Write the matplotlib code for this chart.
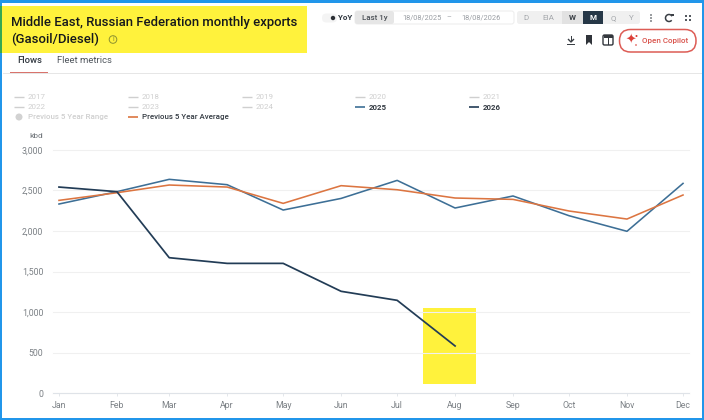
import matplotlib
matplotlib.use('Agg')
import matplotlib.pyplot as plt
from matplotlib.patches import Rectangle, FancyBboxPatch, Circle, Arc

plt.rcParams['font.family'] = ['Roboto', 'DejaVu Sans']

# 数据
months = ['Jan', 'Feb', 'Mar', 'Apr', 'May', 'Jun', 'Jul', 'Aug', 'Sep', 'Oct', 'Nov', 'Dec']
month_days = [0, 31, 59, 90, 120, 151, 181, 212, 243, 273, 304, 334]
y_ticks = [0, 500, 1000, 1500, 2000, 2500, 3000]
exports_2025 = [2331, 2483, 2635, 2569, 2257, 2400, 2622, 2282, 2430, 2187, 1995, 2585]
exports_2026 = [2540, 2483, 1670, 1600, 1600, 1256, 1145, 583]
avg_5y = [2376, 2470, 2565, 2540, 2339, 2557, 2507, 2405, 2388, 2245, 2146, 2442]

faded_years = [['2017', '2018', '2019', '2020', '2021'], ['2022', '2023', '2024']]
range_label = 'Previous 5 Year Range'
avg_label = 'Previous 5 Year Average'
title_lines = ['Middle East, Russian Federation monthly exports', '(Gasoil/Diesel)']
tab_labels = ['Flows', 'Fleet metrics']
freq_labels = ['D', 'EIA', 'W', 'M', 'Q', 'Y']

C_2025 = '#3d6f96'
C_2026 = '#223c56'
C_AVG = '#dc7541'
C_YELLOW = '#fff23c'
C_BORDER = '#2196ea'
C_FADED = '#cfcfcf'
C_TEXT = '#333a42'
C_RED = '#dd5c55'
W, H = 704, 420

fig = plt.figure(figsize=(W / 100, H / 100), dpi=100, facecolor='white')

# 叠加层，用像素坐标画界面元素
ui = fig.add_axes([0, 0, 1, 1], zorder=1)
ui.set_xlim(0, W)
ui.set_ylim(H, 0)
ui.axis('off')


def box(x0, y0, x1, y1, color, **kw):
    ui.add_patch(Rectangle((x0, y0), x1 - x0, y1 - y0, facecolor=color, edgecolor='none', **kw))


def pill(x0, y0, x1, y1, face, edge='none', r=2.5, lw=1):
    ui.add_patch(FancyBboxPatch((x0 + r, y0 + r), x1 - x0 - 2 * r, y1 - y0 - 2 * r,
                                boxstyle=f'round,pad={r},rounding_size={r}',
                                facecolor=face, edgecolor=edge, linewidth=lw))


# 外框
box(0, 0, W, 3, C_BORDER)
box(0, 0, 2, H, C_BORDER)
box(702, 0, W, H, C_BORDER)
box(0, 418, W, H, C_BORDER)
box(0, 6, 2, 53, '#35a852')

# 标题
box(2, 6, 307, 53, C_YELLOW)
ui.text(11, 22.5, title_lines[0], fontsize=9.45, fontweight='medium', color='#15181c', va='center')
ui.text(11, 39.5, title_lines[1], fontsize=9.45, fontweight='medium', color='#15181c', va='center')
ui.add_patch(Circle((113, 39.5), 3.8, facecolor='none', edgecolor='#8d9130', linewidth=0.7))
ui.text(113, 39.5, 'i', fontsize=5, color='#8d9130', ha='center', va='center')

# 标签页
ui.text(17, 60.5, tab_labels[0], fontsize=6.8, fontweight='medium', color=C_TEXT, va='center')
ui.text(57, 60.5, tab_labels[1], fontsize=6.8, color='#50565d', va='center')
box(3, 73, 702, 74, '#e6e6e6')
box(10, 71.5, 48, 73, '#d9736c')

# 工具栏
pill(322, 13.5, 337, 22.5, '#f4f4f4', r=4.4)
ui.add_patch(Circle((333, 18), 2.2, facecolor='#2b2f35', edgecolor='none'))
ui.text(338, 18, 'YoY', fontsize=5.8, fontweight='bold', color=C_TEXT, va='center')
pill(355, 11, 514, 24, '#ffffff', edge='#ececec', lw=0.7)
pill(355, 11, 394, 24, '#e6e6e6')
ui.text(374.5, 18, 'Last 1y', fontsize=5.7, fontweight='medium', color='#4a4f55', ha='center', va='center')
ui.text(402, 18, '18/08/2025', fontsize=5.3, color='#9a9ea3', va='center')
ui.text(449, 18, '–', fontsize=5.3, color='#9a9ea3', ha='center', va='center')
ui.text(461, 18, '18/08/2026', fontsize=5.3, color='#9a9ea3', va='center')
pill(517, 11, 640, 24, '#f0f0f0')
box(562, 11, 583, 24, '#e2e2e2')
box(583, 11, 603, 24, '#263747')
for label, cx in zip(freq_labels, [526, 548, 572.5, 593, 613, 631]):
    col = '#ffffff' if label == 'M' else ('#3a3f45' if label == 'W' else '#a5a8ac')
    ui.text(cx, 18, label, fontsize=5.8, fontweight='bold' if label in 'WM' else 'normal',
            color=col, ha='center', va='center')

# 图标
for dy in (-3, 0, 3):
    ui.add_patch(Circle((651, 18 + dy), 0.8, facecolor='#3a3f45', edgecolor='none'))
ui.add_patch(Arc((669, 18), 7, 7, theta1=40, theta2=330, color='#3a3f45', linewidth=1.1))
box(671, 13.5, 673.5, 16, '#3a3f45')
for gx in (686, 690):
    for gy in (16, 20):
        box(gx - 1.2, gy - 1.2, gx + 1.2, gy + 1.2, '#555a60')
box(567, 44, 575, 45, '#3a3f45')
box(570.5, 35.5, 571.5, 42, '#3a3f45')
ui.plot([568.5, 571, 573.5], [39.5, 42, 39.5], color='#3a3f45', lw=1)
ui.fill([586, 592, 592, 589, 586], [35, 35, 45, 42, 45], color='#30343a', lw=0)
pill(603, 35, 613, 45, 'none', edge='#33373d', r=1.5, lw=1)
box(607.5, 35, 608.5, 45, '#33373d')
box(603.5, 35, 612.5, 37.5, '#33373d')
pill(619.5, 29.5, 696, 52, '#ffffff', edge=C_RED, r=11, lw=1.1)
ui.text(630.5, 40.5, '✦', fontsize=9, color='#dc3f38', ha='center', va='center', family=['DejaVu Sans'])
ui.add_patch(Circle((636.5, 36), 1, facecolor='#dc3f38', edgecolor='none'))
ui.add_patch(Circle((636, 45), 0.8, facecolor='#dc3f38', edgecolor='none'))
ui.text(642, 40.5, 'Open Copilot', fontsize=5.8, fontweight='medium', color='#d9534c', va='center')


# 图例
def legend_row(x, y, label, color, txt_color, weight='normal', lw=1.2):
    ui.plot([x, x + 10], [y, y], color=color, lw=lw, solid_capstyle='butt')
    ui.text(x + 14, y, label, fontsize=5.7, color=txt_color, fontweight=weight, va='center')


col_x = [14, 128, 242, 355, 469]
for row_y, row in zip([97, 107], faded_years):
    for x, label in zip(col_x, row):
        legend_row(x, row_y, label, C_FADED, C_FADED, lw=1)
legend_row(col_x[3], 107, '2025', C_2025, C_TEXT, 'bold')
legend_row(col_x[4], 107, '2026', C_2026, C_TEXT, 'bold')
ui.add_patch(Circle((19, 117), 3.5, facecolor='#d2d2d2', edgecolor='none'))
ui.text(28, 117, range_label, fontsize=5.7, color=C_FADED, fontweight='medium', va='center')
legend_row(col_x[1], 117, avg_label, C_AVG, C_TEXT, 'medium')

# 主图
ax_left, ax_right, ax_top, ax_bottom = 53, 689, 149.7, 393.3
ax = fig.add_axes([ax_left / W, 1 - ax_bottom / H, (ax_right - ax_left) / W, (ax_bottom - ax_top) / H], zorder=2)
ax.patch.set_alpha(0)
ax.set_xlim(-3.2, 337.2)
ax.set_ylim(0, 3000)
ax.set_yticks(y_ticks)
ax.set_yticklabels([f'{v:,}' for v in y_ticks])
ax.set_xticks(month_days)
ax.set_xticklabels(months)
ax.grid(axis='y', color='#f0f0f0', linewidth=0.8, clip_on=False)
ax.set_axisbelow(True)
for s in ['top', 'right', 'left']:
    ax.spines[s].set_visible(False)
ax.spines['bottom'].set_color('#dfe3e8')
ax.spines['bottom'].set_linewidth(0.8)
ax.tick_params(axis='y', length=0, pad=7, labelsize=6.3, labelcolor='#7b8085')
ax.tick_params(axis='x', length=2, width=0.6, color='#dfe3e8', pad=3.5, labelsize=6.3, labelcolor='#7b8085')

# 高亮放在线条下面
box(423, 308, 476, 384, C_YELLOW, zorder=0)

ax.plot(month_days, exports_2025, color=C_2025, lw=1.15, zorder=3)
ax.plot(month_days, avg_5y, color=C_AVG, lw=1.15, zorder=4)
ax.plot(month_days[:len(exports_2026)], exports_2026, color=C_2026, lw=1.25, zorder=5)

ui.text(43, 136, 'kbd', fontsize=6, color='#6f7479', ha='right', va='center')

fig.savefig('out.png', dpi=100)
